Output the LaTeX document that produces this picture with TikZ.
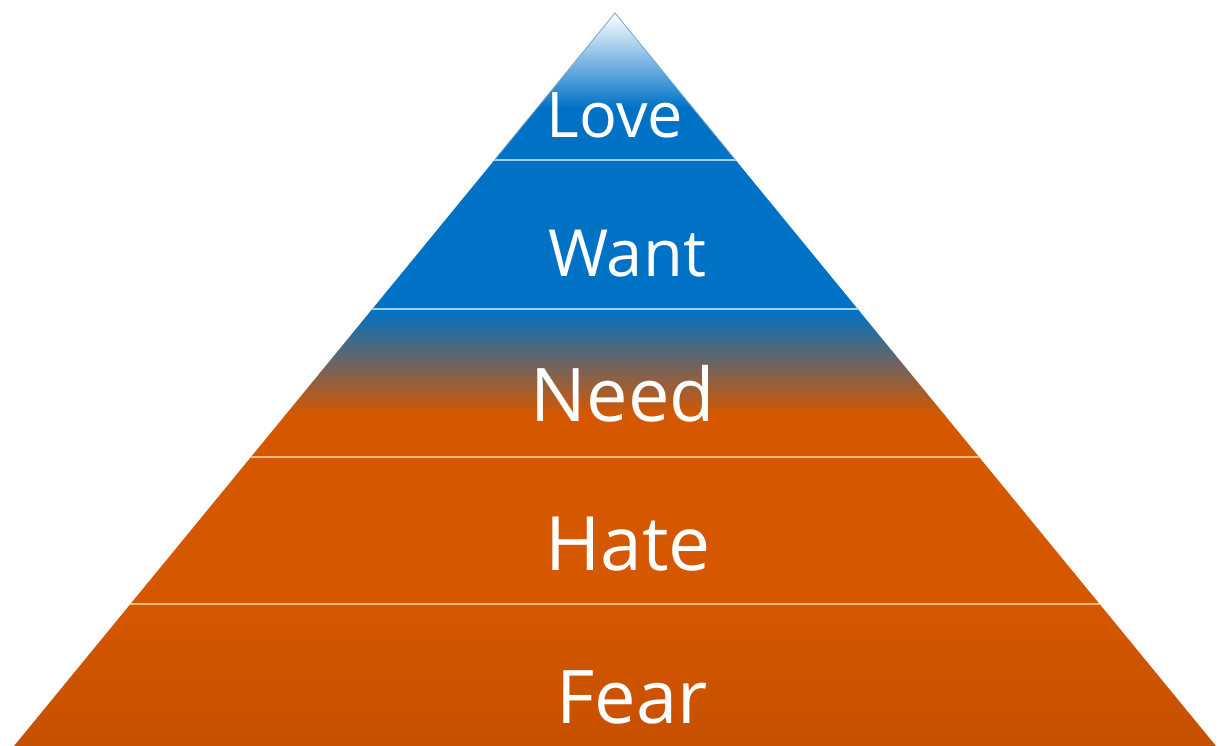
\documentclass[tikz,border=0pt]{standalone}
\usepackage{fontspec}
\setmainfont{Open Sans}
\usetikzlibrary{positioning,calc}
\definecolor{tierblue}{RGB}{0,114,198}
\definecolor{tierorange}{RGB}{213,87,0}
\definecolor{tierdark}{RGB}{198,80,0}
\definecolor{lineblue}{RGB}{165,208,238}
\definecolor{lineorange}{RGB}{238,185,125}
\definecolor{edgeblue}{RGB}{120,165,205}

\begin{document}
\begin{tikzpicture}[x=1pt, y=-1pt,
                    tier label/.style = {text=white, anchor=base, inner sep=0pt},
                    tier line/.style = {line width=1.6pt}]
    \useasboundingbox (0,0) rectangle (1219,746);
    % corners of the pyramid
    \coordinate (apex) at (615,13);
    \coordinate (base left) at (14,746);
    \coordinate (base right) at (1216,746);
    \begin{scope}
        \clip (apex) -- (base right) -- (base left) -- cycle;
        % tiers
        \shade[top color=white, bottom color=tierblue] (0,13) rectangle (1219,108);
        \fill[tierblue] (0,107) rectangle (1219,310);
        \shade[top color=tierblue, bottom color=tierorange] (0,309) rectangle (1219,415);
        \fill[tierorange] (0,414) rectangle (1219,605);
        \shade[top color=tierorange, bottom color=tierdark] (0,604) rectangle (1219,746);
        % separators
        \draw[tier line, lineblue] (0,160) -- (1219,160);
        \draw[tier line, lineblue] (0,309) -- (1219,309);
        \draw[tier line, lineorange] (0,457) -- (1219,457);
        \draw[tier line, lineorange] (0,604) -- (1219,604);
    \end{scope}
    \draw[edgeblue, line width=0.8pt] ($(apex)!0.2!(base left)$) -- (apex) -- ($(apex)!0.2!(base right)$);
    % labels
    \node[tier label, font=\fontsize{63}{63}\selectfont] (love) at (615,138) {Love};
    \node[tier label, font=\fontsize{65}{65}\selectfont] (want) at (627,277) {Want};
    \node[tier label, font=\fontsize{74}{74}\selectfont] (need) at (623,421) {Need};
    \node[tier label, font=\fontsize{75}{75}\selectfont] (hate) at (628,570) {Hate};
    \node[tier label, font=\fontsize{74}{74}\selectfont] (fear) at (632,723) {Fear};
\end{tikzpicture}
\end{document}
